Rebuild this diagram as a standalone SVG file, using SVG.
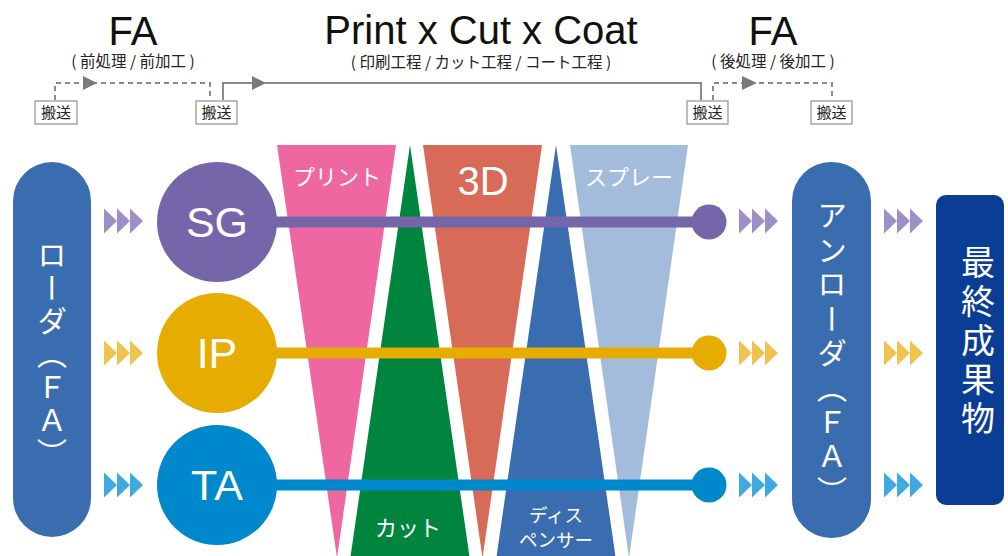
<svg xmlns="http://www.w3.org/2000/svg" width="1008" height="556" viewBox="0 0 1008 556">
<defs>
<style>
.lat{font-family:"Liberation Sans",Arial,sans-serif}
.jp{font-family:"Noto Sans CJK JP","Noto Sans CJK SC",sans-serif}
.title{font-size:40px;fill:#111;text-anchor:middle}
.sub{font-size:15.5px;fill:#222;text-anchor:middle}
.conn{fill:none;stroke:#8a8a8a;stroke-width:2}
.dash{stroke-dasharray:5 4}
.arrow{fill:#7a7a7a}
.box{fill:#fff;stroke:#999;stroke-width:1.3}
.boxt{font-size:15px;fill:#222;text-anchor:middle}
.wt{fill:#fff;text-anchor:middle}
.vert{writing-mode:vertical-rl;text-anchor:middle}
</style>
<polygon id="chev" points="0,-12.5 13,0 0,12.5"/>
</defs>
<rect width="1008" height="556" fill="#fff"/>

<g id="headers">
<text class="lat title" x="133" y="45">FA</text>
<text class="jp sub" x="133" y="67">( 前処理 / 前加工 )</text>
<text class="lat title" x="481" y="44">Print x Cut x Coat</text>
<text class="jp sub" x="481" y="67.5">( 印刷工程 / カット工程 / コート工程 )</text>
<text class="lat title" x="773" y="45">FA</text>
<text class="jp sub" x="773" y="67">( 後処理 / 後加工 )</text>
</g>

<g id="connectors">
<polyline class="conn dash" points="55,100 55,83 210,83 210,100"/>
<polygon class="arrow" points="83,76 97,83 83,90"/>
<polyline class="conn" points="223,100 223,83 701,83 701,100"/>
<polygon class="arrow" points="252,76 266,83 252,90"/>
<polyline class="conn dash" points="713,100 713,83 832,83 832,100"/>
<polygon class="arrow" points="742,76 757,83 742,90"/>
</g>

<g id="transport1"><rect class="box" x="35" y="101" width="42" height="23"/><text class="jp boxt" x="56" y="118">搬送</text></g>
<g id="transport2"><rect class="box" x="196" y="101" width="41" height="23"/><text class="jp boxt" x="216.5" y="118">搬送</text></g>
<g id="transport3"><rect class="box" x="687" y="101" width="41" height="23"/><text class="jp boxt" x="707.5" y="118">搬送</text></g>
<g id="transport4"><rect class="box" x="811" y="101" width="41" height="23"/><text class="jp boxt" x="831.5" y="118">搬送</text></g>

<g id="print"><polygon points="277,145 396,145 337,558" fill="#ee67a1"/><text class="jp wt" x="337" y="185" font-size="22">プリント</text></g>
<g id="cut"><polygon points="410,145 350,560 470,560" fill="#00853f"/><text class="jp wt" x="408" y="536" font-size="22">カット</text></g>
<g id="threed"><polygon points="423,145 542,145 482.5,558" fill="#d86b57"/><text class="lat wt" x="483" y="195" font-size="40">3D</text></g>
<g id="dispenser"><polygon points="556,145 496,560 616,560" fill="#3a6db0"/><text class="jp wt" x="556" y="522" font-size="18.5">ディス</text><text class="jp wt" x="556" y="547" font-size="18.5">ペンサー</text></g>
<g id="spray"><polygon points="570,145 688,145 629,558" fill="#a4bcdc"/><text class="jp wt" x="629" y="185" font-size="22">スプレー</text></g>

<g id="lines">
<line x1="217" y1="222" x2="709" y2="222" stroke="#7566a9" stroke-width="11"/>
<circle cx="709" cy="222" r="17.5" fill="#7566a9"/>
<line x1="217" y1="353" x2="709" y2="353" stroke="#e6ad00" stroke-width="11"/>
<circle cx="709" cy="353" r="17.5" fill="#e6ad00"/>
<line x1="217" y1="485" x2="709" y2="485" stroke="#0088cc" stroke-width="11"/>
<circle cx="709" cy="485" r="17.5" fill="#0088cc"/>
</g>

<g id="loader">
<rect x="13" y="162" width="78" height="375" rx="39" fill="#3a6db0"/>
<text class="jp wt vert" x="52" y="355" font-size="30" letter-spacing="3">ローダ（ＦＡ）</text>
</g>

<g id="sg"><circle cx="217" cy="222" r="60" fill="#7566a9"/><text class="lat wt" x="217" y="237" font-size="43">SG</text></g>
<g id="ip"><circle cx="217" cy="353" r="60" fill="#e6ad00"/><text class="lat wt" x="217" y="368" font-size="43">IP</text></g>
<g id="ta"><circle cx="217" cy="485" r="60" fill="#0088cc"/><text class="lat wt" x="217" y="500" font-size="43">TA</text></g>

<g id="chevrons">
<g fill="#9d8fc8">
<use href="#chev" x="104" y="221"/><use href="#chev" x="117" y="221"/><use href="#chev" x="130" y="221"/>
<use href="#chev" x="739" y="221"/><use href="#chev" x="752" y="221"/><use href="#chev" x="765" y="221"/>
<use href="#chev" x="884" y="221"/><use href="#chev" x="897" y="221"/><use href="#chev" x="910" y="221"/>
</g>
<g fill="#f0c24e">
<use href="#chev" x="104" y="353"/><use href="#chev" x="117" y="353"/><use href="#chev" x="130" y="353"/>
<use href="#chev" x="739" y="353"/><use href="#chev" x="752" y="353"/><use href="#chev" x="765" y="353"/>
<use href="#chev" x="884" y="353"/><use href="#chev" x="897" y="353"/><use href="#chev" x="910" y="353"/>
</g>
<g fill="#3eaadf">
<use href="#chev" x="104" y="485"/><use href="#chev" x="117" y="485"/><use href="#chev" x="130" y="485"/>
<use href="#chev" x="739" y="485"/><use href="#chev" x="752" y="485"/><use href="#chev" x="765" y="485"/>
<use href="#chev" x="884" y="485"/><use href="#chev" x="897" y="485"/><use href="#chev" x="910" y="485"/>
</g>
</g>

<g id="unloader">
<rect x="792" y="162" width="79" height="376" rx="39" fill="#3a6db0"/>
<text class="jp wt vert" x="832" y="355" font-size="30" letter-spacing="4.5">アンローダ（ＦＡ）</text>
</g>

<g id="final">
<rect x="936" y="195" width="68" height="310" rx="10" fill="#0a3d94"/>
<text class="jp wt vert" x="978" y="343" font-size="34" letter-spacing="5">最終成果物</text>
</g>
</svg>
